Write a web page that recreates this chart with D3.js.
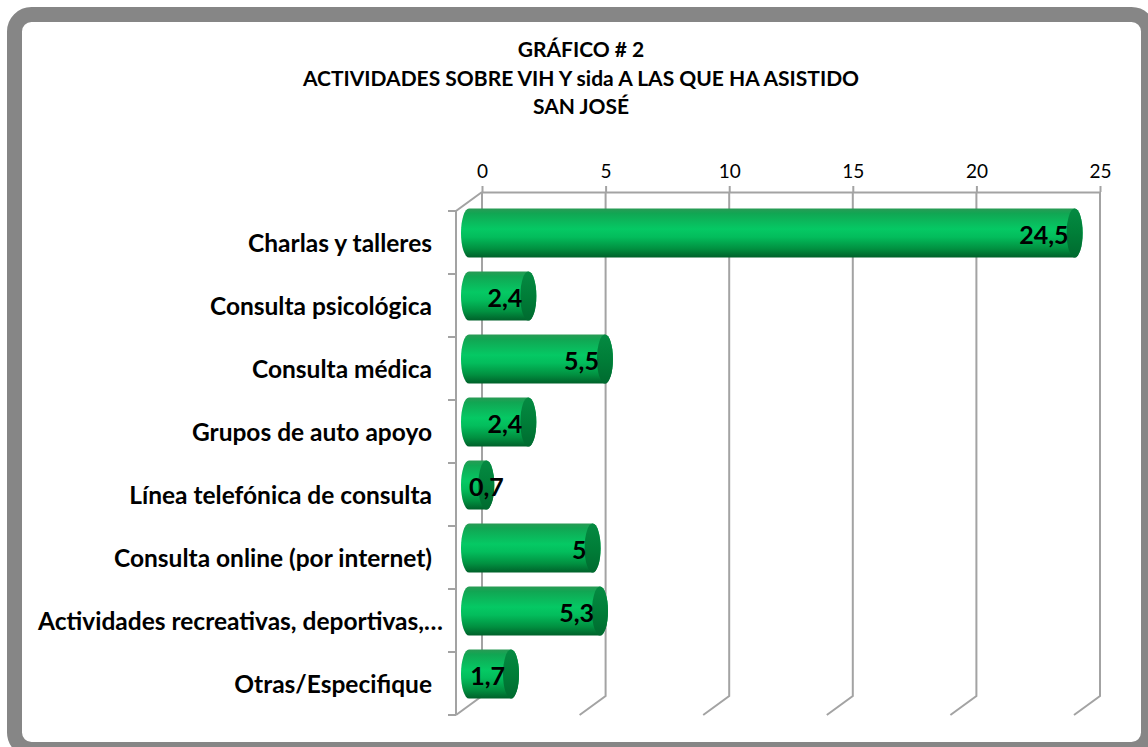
<!DOCTYPE html>
<html>
<head>
<meta charset="utf-8">
<script src="https://cdn.jsdelivr.net/npm/d3@7"></script>
<style>
  body { margin: 0; background: #fff; }
  svg { display: block; font-family: Lato, "Open Sans", sans-serif; }
</style>
</head>
<body>
<div id="chart"></div>
<script>
// data
var titleLines = ["GRÁFICO # 2", "ACTIVIDADES SOBRE VIH Y sida A LAS QUE HA ASISTIDO", "SAN JOSÉ"];
var categories = [
  "Charlas y talleres",
  "Consulta psicológica",
  "Consulta médica",
  "Grupos de auto apoyo",
  "Línea telefónica de consulta",
  "Consulta online (por internet)",
  "Actividades recreativas, deportivas,…",
  "Otras/Especifique"
];
var values = [24.5, 2.4, 5.5, 2.4, 0.7, 5, 5.3, 1.7];
var tickValues = [0, 5, 10, 15, 20, 25];

var svgWidth = 1148, svgHeight = 747;

var svg = d3.select("#chart").append("svg")
  .attr("width", svgWidth)
  .attr("height", svgHeight);

// frame
svg.append("rect")
  .attr("x", 14.5).attr("y", 14.5)
  .attr("width", 1134).attr("height", 735)
  .attr("rx", 17).attr("ry", 17)
  .attr("fill", "#fff")
  .attr("stroke", "#868686")
  .attr("stroke-width", 15);

// title
svg.append("g").selectAll("text")
  .data(titleLines)
  .enter().append("text")
  .attr("x", 581)
  .attr("y", (d, i) => 57 + i * 28.5)
  .attr("text-anchor", "middle")
  .attr("font-size", 21)
  .attr("font-weight", "bold")
  .text(d => d);

// 3d box: depth offset between back wall and front plane
var depth = { dx: 26, dy: 19 };
var plot = { left: 469, right: 1087, top: 201.5, bottom: 705.5 }; // mid-depth plane

var xScale = d3.scaleLinear().domain([0, 25]).range([plot.left, plot.right]);
var xBack = d3.scaleLinear().domain([0, 25]).range([plot.left + depth.dx / 2, plot.right + depth.dx / 2]);
var yScale = d3.scaleBand().domain(categories)
  .range([plot.top, plot.bottom])
  .paddingInner(0.22).paddingOuter(0.11);
var yFront = d3.scaleBand().domain(categories)
  .range([plot.top + depth.dy / 2, plot.bottom + depth.dy / 2]);

var backTop = plot.top - depth.dy / 2, backBottom = plot.bottom - depth.dy / 2;
var frontTop = plot.top + depth.dy / 2, frontBottom = plot.bottom + depth.dy / 2;
var gridColor = "#a3a3a3";

var grid = svg.append("g").attr("stroke", gridColor).attr("stroke-width", 2).attr("fill", "none");

// vertical gridlines on back wall, with floor diagonals
grid.selectAll(".vg")
  .data(tickValues)
  .enter().append("path")
  .attr("d", d => `M${xBack(d)},${backTop}V${backBottom}l${-depth.dx},${depth.dy}`);

// left wall
grid.append("path")
  .attr("d", `M${xBack(0)},${backTop}L${xBack(0) - depth.dx},${frontTop}V${frontBottom}`);

// left ticks at category boundaries
var bounds = categories.map(c => yFront(c)).concat([frontBottom]);
grid.selectAll(".lt")
  .data(bounds)
  .enter().append("path")
  .attr("d", d => `M${xBack(0) - depth.dx - 8},${d}h8`);

// top axis
var xAxis = d3.axisTop(xBack).tickValues(tickValues).tickSizeInner(6).tickSizeOuter(0).tickPadding(8);
var axisG = svg.append("g")
  .attr("transform", `translate(0,${backTop})`)
  .call(xAxis);
axisG.select(".domain").attr("stroke", gridColor).attr("stroke-width", 2);
axisG.selectAll(".tick line").attr("stroke", gridColor).attr("stroke-width", 2);
axisG.selectAll(".tick text")
  .attr("font-family", "Lato, sans-serif")
  .attr("font-size", 19)
  .attr("fill", "#000");

// category labels, right aligned; a label too long to fit starts at the left margin
var labelRight = 432, labelMinLeft = 38;
svg.append("g").selectAll("text")
  .data(categories)
  .enter().append("text")
  .attr("y", d => yFront(d) + yFront.bandwidth() / 2 + 9)
  .attr("font-size", 24.5)
  .attr("font-weight", "bold")
  .text(d => d)
  .each(function() {
    var w = this.getComputedTextLength();
    var left = Math.max(labelRight - w, labelMinLeft);
    d3.select(this).attr("x", left);
  });

// cylinder gradients
var defs = svg.append("defs");
var body = defs.append("linearGradient").attr("id", "cyl")
  .attr("x1", 0).attr("y1", 0).attr("x2", 0).attr("y2", 1);
[[0, "#2a9a55"], [0.1, "#11a653"], [0.42, "#05c964"], [0.58, "#03bd5c"], [0.82, "#019040"], [1, "#00602a"]]
  .forEach(s => body.append("stop").attr("offset", s[0]).attr("stop-color", s[1]));
var cap = defs.append("linearGradient").attr("id", "cap")
  .attr("x1", 0).attr("y1", 0).attr("x2", 0).attr("y2", 1);
[[0, "#058a42"], [0.5, "#007e38"], [1, "#006a2f"]]
  .forEach(s => cap.append("stop").attr("offset", s[0]).attr("stop-color", s[1]));

var rx = 8;
var bars = svg.append("g").selectAll("g")
  .data(values)
  .enter().append("g");

bars.append("path")
  .attr("fill", "url(#cyl)")
  .attr("d", (d, i) => {
    var x0 = xScale(0), x1 = xScale(d);
    var t = yScale(categories[i]), h = yScale.bandwidth(), b = t + h, ry = h / 2;
    return `M${x0},${t}L${x1},${t}A${rx},${ry} 0 0 1 ${x1},${b}L${x0},${b}A${rx},${ry} 0 0 1 ${x0},${t}Z`;
  });

bars.append("ellipse")
  .attr("fill", "url(#cap)")
  .attr("cx", d => xScale(d))
  .attr("cy", (d, i) => yScale(categories[i]) + yScale.bandwidth() / 2)
  .attr("rx", rx)
  .attr("ry", yScale.bandwidth() / 2);

// value labels
bars.append("text")
  .attr("font-size", 25)
  .attr("font-weight", "bold")
  .attr("fill", "#000")
  .attr("y", (d, i) => yScale(categories[i]) + yScale.bandwidth() / 2 + 11)
  .text(d => String(d).replace(".", ","))
  .each(function(d) {
    var w = this.getComputedTextLength();
    var right = xScale(d) - 6;
    if (right - w < xScale(0)) right = xScale(0) + w;
    d3.select(this).attr("x", right).attr("text-anchor", "end");
  });
</script>
</body>
</html>
